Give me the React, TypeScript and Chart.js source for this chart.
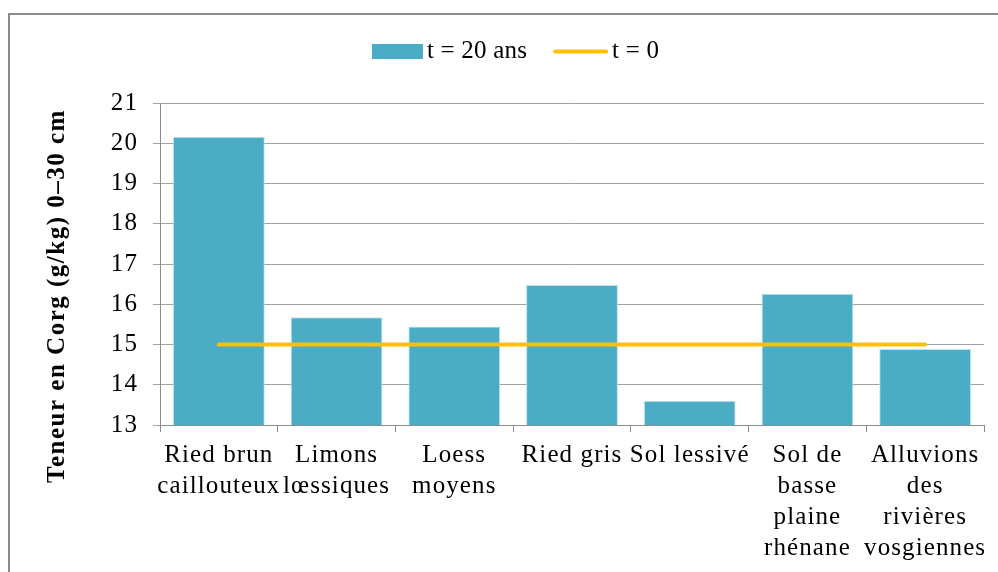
import { useEffect, useRef } from "react";
import { Chart, registerables } from "chart.js";

Chart.register(...registerables);

// ---- data ----
const categories: string[][] = [
  ["Ried brun", "caillouteux"],
  ["Limons", "lœssiques"],
  ["Loess", "moyens"],
  ["Ried gris"],
  ["Sol lessivé"],
  ["Sol de", "basse", "plaine", "rhénane"],
  ["Alluvions", "des", "rivières", "vosgiennes"],
];
const seriesT20 = [20.16, 15.68, 15.45, 16.48, 13.6, 16.26, 14.89];
const seriesT0 = [15, 15, 15, 15, 15, 15, 15];
const seriesLabels = ["t = 20 ans", "t = 0"];
const yAxisTitle = "Teneur en Corg (g/kg) 0–30 cm";
const yMin = 13;
const yMax = 21;
const yStep = 1;

const FONT = "'Liberation Serif', 'Times New Roman', serif";
const BAR_COLOR = "#4BACC6";
const LINE_COLOR = "#FFC000";
const AXIS_SPACING = "1.1px";

const setSpacing = (chart: any) => {
  try {
    chart.ctx.letterSpacing = AXIS_SPACING;
  } catch (e) {
    /* ignore */
  }
};

const decorPlugin = {
  id: "decor",
  beforeInit(chart: any) {
    setSpacing(chart);
  },
  beforeUpdate(chart: any) {
    setSpacing(chart);
  },
  beforeDraw(chart: any) {
    setSpacing(chart);
    const ctx = chart.ctx;
    ctx.save();
    ctx.strokeStyle = "#8c8c8c";
    ctx.lineWidth = 2;
    ctx.beginPath();
    ctx.moveTo(9, chart.height + 10);
    ctx.lineTo(9, 14);
    ctx.lineTo(chart.width + 10, 14);
    ctx.stroke();
    ctx.restore();
  },
  afterDraw(chart: any) {
    const ctx = chart.ctx;
    // y axis title
    ctx.save();
    ctx.letterSpacing = "1.5px";
    ctx.font = `bold 25px ${FONT}`;
    ctx.fillStyle = "#000";
    ctx.textAlign = "center";
    ctx.textBaseline = "middle";
    ctx.translate(58, 296);
    ctx.rotate(-Math.PI / 2);
    ctx.fillText(yAxisTitle, 0, 0);
    ctx.restore();

    // legend
    const ds = chart.data.datasets;
    ctx.save();
    ctx.letterSpacing = "0.2px";
    ctx.font = `25px ${FONT}`;
    ctx.fillStyle = "#000";
    ctx.textAlign = "left";
    ctx.textBaseline = "middle";
    const cy = 51.5;
    let x = 372;
    ctx.fillStyle = ds[0].backgroundColor;
    ctx.fillRect(x, 44, 51, 15);
    x += 55;
    ctx.fillStyle = "#000";
    ctx.fillText(ds[0].label, x, cy);
    x += ctx.measureText(ds[0].label).width + 26;
    ctx.strokeStyle = ds[1].borderColor;
    ctx.lineWidth = 4;
    ctx.lineCap = "round";
    ctx.beginPath();
    ctx.moveTo(x + 2, cy);
    ctx.lineTo(x + 53, cy);
    ctx.stroke();
    x += 59;
    ctx.fillText(ds[1].label, x, cy);
    ctx.restore();
  },
};

export default function App() {
  const ref = useRef<HTMLCanvasElement | null>(null);

  useEffect(() => {
    if (!ref.current) return;
    const font = { family: FONT, size: 25 };
    const chart = new Chart(ref.current, {
      type: "bar",
      data: {
        labels: categories,
        datasets: [
          {
            type: "bar",
            label: seriesLabels[0],
            data: seriesT20,
            backgroundColor: BAR_COLOR,
            borderColor: "#bfe3ec",
            borderWidth: 1,
            barPercentage: 0.78,
            categoryPercentage: 1,
            order: 2,
          },
          {
            type: "line",
            label: seriesLabels[1],
            data: seriesT0,
            borderColor: LINE_COLOR,
            backgroundColor: LINE_COLOR,
            borderWidth: 4,
            borderCapStyle: "round",
            pointRadius: 0,
            fill: false,
            order: 1,
          },
        ] as any,
      },
      options: {
        responsive: false,
        maintainAspectRatio: false,
        animation: false,
        layout: { padding: { top: 103, right: 14, left: 0, bottom: 0 } },
        plugins: {
          legend: { display: false },
          tooltip: { enabled: false },
        },
        scales: {
          x: {
            grid: { drawOnChartArea: false, tickLength: 7, color: "#8c8c8c" },
            border: { color: "#8c8c8c" },
            ticks: {
              font: { ...font, lineHeight: 1.24 },
              color: "#000",
              padding: 8,
              maxRotation: 0,
              autoSkip: false,
            },
            afterFit: (s: any) => {
              s.height = 147;
            },
          },
          y: {
            min: yMin,
            max: yMax,
            ticks: { stepSize: yStep, font, color: "#000", padding: 15 },
            grid: { color: "#a0a0a0", tickLength: 7 },
            border: { color: "#8c8c8c" },
            afterFit: (s: any) => {
              s.width = 160;
            },
          },
        },
      } as any,
      plugins: [decorPlugin],
    });
    chart.update();
    return () => chart.destroy();
  }, []);

  return (
    <div style={{ position: "absolute", left: 0, top: 0, width: 998, height: 572, background: "#fff" }}>
      <canvas ref={ref} width={998} height={572} style={{ display: "block" }} />
    </div>
  );
}
